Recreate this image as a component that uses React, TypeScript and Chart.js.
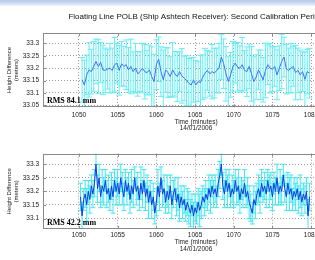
import React, { useEffect, useRef } from 'react';
import { Chart, registerables } from 'chart.js';

Chart.register(...registerables);

const TITLE = 'Floating Line POLB (Ship Ashtech Receiver): Second Calibration Period';
const X_TITLE = ['Time (minutes)', '14/01/2006'];
const Y_TITLE = ['Height Difference', '(meters)'];
const X_TICKS = [1050, 1055, 1060, 1065, 1070, 1075, 1080];
const TOP_Y_TICKS = [33.05, 33.1, 33.15, 33.2, 33.25, 33.3];
const BOTTOM_Y_TICKS = [33.1, 33.15, 33.2, 33.25, 33.3];
const TOP_RMS = 'RMS 84.1 mm';
const BOTTOM_RMS = 'RMS 42.2 mm';

const topTimes = [
  1050.4, 1050.7, 1051.0, 1051.3, 1051.6, 1051.9, 1052.2, 1052.5, 1052.8, 1053.1,
  1053.4, 1053.7, 1054.0, 1054.3, 1054.6, 1054.9, 1055.2, 1055.5, 1055.8, 1056.1,
  1056.4, 1056.7, 1057.0, 1057.3, 1057.6, 1057.9, 1058.2, 1058.5, 1058.8, 1059.1,
  1059.4, 1059.7, 1060.0, 1060.3, 1060.6, 1060.9, 1061.2, 1061.5, 1061.8, 1062.1,
  1062.4, 1062.7, 1063.0, 1063.3, 1063.6, 1063.9, 1064.2, 1064.5, 1064.8, 1065.1,
  1065.4, 1065.7, 1066.0, 1066.3, 1066.6, 1066.9, 1067.2, 1067.5, 1067.8, 1068.1,
  1068.4, 1068.7, 1069.0, 1069.3, 1069.6, 1069.9, 1070.2, 1070.5, 1070.8, 1071.1,
  1071.4, 1071.7, 1072.0, 1072.3, 1072.6, 1072.9, 1073.2, 1073.5, 1073.8, 1074.1,
  1074.4, 1074.7, 1075.0, 1075.3, 1075.6, 1075.9, 1076.2, 1076.5, 1076.8, 1077.1,
  1077.4, 1077.7, 1078.0, 1078.3, 1078.6, 1078.9, 1079.2, 1079.5, 1079.8,
];

const topHeights = [
  33.153, 33.132, 33.173, 33.193, 33.186, 33.207, 33.227, 33.207, 33.223, 33.193,
  33.191, 33.196, 33.2, 33.191, 33.214, 33.22, 33.191, 33.218, 33.207, 33.214,
  33.193, 33.207, 33.186, 33.2, 33.177, 33.186, 33.2, 33.186, 33.182, 33.193,
  33.166, 33.146, 33.214, 33.236, 33.186, 33.153, 33.193, 33.182, 33.166, 33.193,
  33.177, 33.166, 33.186, 33.169, 33.159, 33.15, 33.139, 33.132, 33.153, 33.132,
  33.146, 33.142, 33.164, 33.18, 33.191, 33.177, 33.186, 33.18, 33.191, 33.2,
  33.245, 33.218, 33.177, 33.146, 33.173, 33.207, 33.22, 33.204, 33.2, 33.214,
  33.191, 33.186, 33.207, 33.177, 33.146, 33.164, 33.193, 33.173, 33.153, 33.191,
  33.214, 33.2, 33.196, 33.207, 33.173, 33.2, 33.227, 33.245, 33.196, 33.191,
  33.2, 33.207, 33.182, 33.191, 33.173, 33.186, 33.155, 33.186, 33.18,
];

const topErrors = [
  0.09, 0.10, 0.08, 0.11, 0.09, 0.10, 0.09, 0.11, 0.08, 0.10,
  0.09, 0.08, 0.10, 0.09, 0.11, 0.08, 0.10, 0.09, 0.08, 0.10,
  0.09, 0.11, 0.08, 0.10, 0.09, 0.08, 0.10, 0.11, 0.09, 0.10,
  0.12, 0.11, 0.10, 0.09, 0.10, 0.12, 0.09, 0.10, 0.08, 0.11,
  0.09, 0.10, 0.08, 0.11, 0.09, 0.10, 0.10, 0.11, 0.09, 0.10,
  0.08, 0.11, 0.09, 0.10, 0.08, 0.09, 0.11, 0.10, 0.09, 0.10,
  0.09, 0.10, 0.11, 0.10, 0.09, 0.10, 0.08, 0.10, 0.09, 0.11,
  0.08, 0.10, 0.09, 0.11, 0.10, 0.09, 0.08, 0.10, 0.09, 0.11,
  0.08, 0.10, 0.09, 0.08, 0.10, 0.09, 0.11, 0.08, 0.10, 0.09,
  0.10, 0.08, 0.11, 0.09, 0.10, 0.08, 0.11, 0.09, 0.10,
];

const bottomTimes = [
  1050.2, 1050.4, 1050.6, 1050.8, 1051.0, 1051.2, 1051.4, 1051.6, 1051.8, 1052.0,
  1052.2, 1052.4, 1052.6, 1052.8, 1053.0, 1053.2, 1053.4, 1053.6, 1053.8, 1054.0,
  1054.2, 1054.4, 1054.6, 1054.8, 1055.0, 1055.2, 1055.4, 1055.6, 1055.8, 1056.0,
  1056.2, 1056.4, 1056.6, 1056.8, 1057.0, 1057.2, 1057.4, 1057.6, 1057.8, 1058.0,
  1058.2, 1058.4, 1058.6, 1058.8, 1059.0, 1059.2, 1059.4, 1059.6, 1059.8, 1060.0,
  1060.2, 1060.4, 1060.6, 1060.8, 1061.0, 1061.2, 1061.4, 1061.6, 1061.8, 1062.0,
  1062.2, 1062.4, 1062.6, 1062.8, 1063.0, 1063.2, 1063.4, 1063.6, 1063.8, 1064.0,
  1064.2, 1064.4, 1064.6, 1064.8, 1065.0, 1065.2, 1065.4, 1065.6, 1065.8, 1066.0,
  1066.2, 1066.4, 1066.6, 1066.8, 1067.0, 1067.2, 1067.4, 1067.6, 1067.8, 1068.0,
  1068.2, 1068.4, 1068.6, 1068.8, 1069.0, 1069.2, 1069.4, 1069.6, 1069.8, 1070.0,
  1070.2, 1070.4, 1070.6, 1070.8, 1071.0, 1071.2, 1071.4, 1071.6, 1071.8, 1072.0,
  1072.2, 1072.4, 1072.6, 1072.8, 1073.0, 1073.2, 1073.4, 1073.6, 1073.8, 1074.0,
  1074.2, 1074.4, 1074.6, 1074.8, 1075.0, 1075.2, 1075.4, 1075.6, 1075.8, 1076.0,
  1076.2, 1076.4, 1076.6, 1076.8, 1077.0, 1077.2, 1077.4, 1077.6, 1077.8, 1078.0,
  1078.2, 1078.4, 1078.6, 1078.8, 1079.0, 1079.2, 1079.4, 1079.6, 1079.8,
];

const bottomHeights = [
  33.18, 33.11, 33.17, 33.19, 33.15, 33.20, 33.17, 33.22, 33.19, 33.23,
  33.30, 33.21, 33.25, 33.18, 33.22, 33.20, 33.24, 33.19, 33.21, 33.17,
  33.22, 33.18, 33.24, 33.20, 33.23, 33.19, 33.25, 33.21, 33.18, 33.24,
  33.20, 33.23, 33.17, 33.22, 33.19, 33.25, 33.20, 33.22, 33.17, 33.23,
  33.19, 33.24, 33.18, 33.21, 33.16, 33.20, 33.15, 33.18, 33.12, 33.16,
  33.22, 33.18, 33.25, 33.19, 33.21, 33.16, 33.20, 33.17, 33.22, 33.15,
  33.19, 33.21, 33.16, 33.19, 33.14, 33.18, 33.15, 33.17, 33.13, 33.16,
  33.14, 33.12, 33.15, 33.11, 33.14, 33.12, 33.16, 33.13, 33.15, 33.18,
  33.16, 33.19, 33.17, 33.21, 33.18, 33.22, 33.19, 33.21, 33.18, 33.23,
  33.26, 33.30, 33.22, 33.19, 33.24, 33.20, 33.23, 33.18, 33.21, 33.19,
  33.24, 33.20, 33.22, 33.17, 33.21, 33.19, 33.23, 33.18, 33.20, 33.16,
  33.14, 33.12, 33.17, 33.15, 33.19, 33.21, 33.18, 33.23, 33.20, 33.22,
  33.19, 33.24, 33.20, 33.22, 33.18, 33.23, 33.20, 33.25, 33.19, 33.22,
  33.20, 33.26, 33.21, 33.18, 33.23, 33.19, 33.21, 33.17, 33.20, 33.18,
  33.21, 33.17, 33.20, 33.16, 33.19, 33.17, 33.20, 33.11, 33.18,
];

const bottomErrors = [
  0.05, 0.05, 0.04, 0.05, 0.06, 0.04, 0.05, 0.04, 0.05, 0.05,
  0.04, 0.05, 0.05, 0.04, 0.06, 0.05, 0.04, 0.05, 0.05, 0.04,
  0.05, 0.06, 0.04, 0.05, 0.05, 0.04, 0.05, 0.06, 0.05, 0.04,
  0.05, 0.04, 0.05, 0.06, 0.05, 0.04, 0.05, 0.05, 0.04, 0.06,
  0.05, 0.04, 0.05, 0.05, 0.06, 0.04, 0.05, 0.05, 0.04, 0.05,
  0.06, 0.05, 0.04, 0.05, 0.05, 0.04, 0.06, 0.05, 0.04, 0.05,
  0.05, 0.04, 0.05, 0.06, 0.05, 0.04, 0.05, 0.05, 0.04, 0.05,
  0.06, 0.05, 0.04, 0.05, 0.05, 0.04, 0.05, 0.06, 0.05, 0.04,
  0.05, 0.05, 0.04, 0.05, 0.06, 0.04, 0.05, 0.05, 0.04, 0.05,
  0.05, 0.04, 0.05, 0.05, 0.04, 0.06, 0.05, 0.04, 0.05, 0.05,
  0.04, 0.05, 0.06, 0.05, 0.04, 0.05, 0.05, 0.04, 0.05, 0.06,
  0.05, 0.04, 0.05, 0.05, 0.04, 0.05, 0.06, 0.05, 0.04, 0.05,
  0.05, 0.04, 0.06, 0.05, 0.05, 0.04, 0.05, 0.05, 0.04, 0.06,
  0.05, 0.04, 0.05, 0.05, 0.04, 0.06, 0.05, 0.04, 0.05, 0.05,
  0.04, 0.05, 0.06, 0.05, 0.04, 0.05, 0.05, 0.06, 0.05,
];

const SANS = '"Liberation Sans", Arial, Helvetica, sans-serif';

function makeErrorBarPlugin(times: number[], values: number[], errors: number[], color: string, cap: number) {
  return {
    id: 'errorBars',
    beforeDatasetsDraw(chart: any) {
      const { ctx, chartArea: a, scales } = chart;
      const xs = scales.x;
      const ys = scales.y;
      ctx.save();
      ctx.beginPath();
      ctx.rect(a.left, a.top, a.right - a.left, a.bottom - a.top);
      ctx.clip();
      ctx.strokeStyle = color;
      ctx.lineWidth = 1;
      ctx.beginPath();
      for (let i = 0; i < times.length; i++) {
        const px = xs.getPixelForValue(times[i]);
        const hi = ys.getPixelForValue(values[i] + errors[i]);
        const lo = ys.getPixelForValue(values[i] - errors[i]);
        ctx.moveTo(px, hi);
        ctx.lineTo(px, lo);
        ctx.moveTo(px - cap / 2, hi);
        ctx.lineTo(px + cap / 2, hi);
        ctx.moveTo(px - cap / 2, lo);
        ctx.lineTo(px + cap / 2, lo);
      }
      ctx.stroke();
      ctx.restore();
    },
  };
}

// Centre the title over the plot area (as in the original figure).
const centerTitlePlugin = {
  id: 'centerTitle',
  afterLayout(chart: any) {
    const tb = chart.titleBlock;
    if (tb) {
      tb.left = chart.chartArea.left;
      tb.right = chart.chartArea.right;
      tb.width = chart.chartArea.right - chart.chartArea.left;
    }
  },
};

function makeFramePlugin(rms: string, yTicks: number[]) {
  return {
    id: 'frame',
    afterDatasetsDraw(chart: any) {
      const { ctx, chartArea: a, scales } = chart;
      ctx.save();
      ctx.strokeStyle = '#8a8a8a';
      ctx.lineWidth = 1;
      ctx.strokeRect(Math.round(a.left) + 0.5, Math.round(a.top) + 0.5, Math.round(a.right - a.left) - 1, Math.round(a.bottom - a.top) - 1);
      ctx.beginPath();
      for (const t of X_TICKS) {
        const px = Math.round(scales.x.getPixelForValue(t)) + 0.5;
        ctx.moveTo(px, a.bottom);
        ctx.lineTo(px, a.bottom - 3);
        ctx.moveTo(px, a.top);
        ctx.lineTo(px, a.top + 3);
      }
      for (const v of yTicks) {
        const py = Math.round(scales.y.getPixelForValue(v)) + 0.5;
        ctx.moveTo(a.left, py);
        ctx.lineTo(a.left + 3, py);
        ctx.moveTo(a.right, py);
        ctx.lineTo(a.right - 3, py);
      }
      ctx.stroke();
      ctx.font = 'bold 8px "Liberation Serif", "Times New Roman", serif';
      ctx.fillStyle = '#000';
      ctx.textAlign = 'left';
      ctx.textBaseline = 'alphabetic';
      ctx.fillText(rms, a.left + 4, a.bottom - 4);
      ctx.restore();
    },
  };
}

interface PanelSpec {
  times: number[];
  values: number[];
  errors: number[];
  yTicks: number[];
  yMin: number;
  yMax: number;
  rms: string;
  lineColor: string;
  barColor: string;
  cap: number;
  title: boolean;
  padTop: number;
  xHeight: number;
  tickPad: number;
  xTitleBottom: number;
}

function makeConfig(p: PanelSpec): any {
  const tickFont = { family: SANS, size: 6.5, lineHeight: 1 };
  return {
    type: 'line',
    data: {
      datasets: [
        {
          data: p.times.map((t, i) => ({ x: t, y: p.values[i] })),
          borderColor: p.lineColor,
          borderWidth: 1,
          pointRadius: 0,
          tension: 0,
          fill: false,
        },
      ],
    },
    options: {
      responsive: false,
      maintainAspectRatio: false,
      animation: false,
      events: [],
      layout: { padding: { top: p.padTop, right: 43, bottom: 0, left: 0 } },
      plugins: {
        legend: { display: false },
        tooltip: { enabled: false },
        title: {
          display: p.title,
          text: TITLE,
          color: '#111',
          font: { family: SANS, size: 8, weight: 'normal', lineHeight: 1.2 },
          padding: { top: 0, bottom: 11.2 },
        },
      },
      scales: {
        x: {
          type: 'linear',
          min: 1045.35,
          max: 1084.9,
          afterBuildTicks: (s: any) => {
            s.ticks = X_TICKS.map((v) => ({ value: v }));
          },
          afterFit: (s: any) => {
            s.height = p.xHeight;
          },
          grid: { color: '#9a9a9a', lineWidth: 1, drawTicks: false },
          border: { display: false, dash: [1, 2] },
          ticks: {
            padding: p.tickPad,
            color: '#222',
            font: tickFont,
            maxRotation: 0,
            autoSkip: false,
            callback: (v: any) => String(v),
          },
          title: {
            display: true,
            text: X_TITLE,
            color: '#222',
            font: { family: SANS, size: 6.5, lineHeight: 1 },
            padding: { top: 0, bottom: p.xTitleBottom },
          },
        },
        y: {
          type: 'linear',
          min: p.yMin,
          max: p.yMax,
          afterBuildTicks: (s: any) => {
            s.ticks = p.yTicks.map((v) => ({ value: v }));
          },
          afterFit: (s: any) => {
            s.width = 43;
          },
          grid: { color: '#9a9a9a', lineWidth: 1, drawTicks: false },
          border: { display: false, dash: [1, 2] },
          ticks: {
            padding: 4,
            color: '#222',
            font: tickFont,
            callback: (v: any) => String(parseFloat(Number(v).toFixed(2))),
          },
          title: {
            display: true,
            text: Y_TITLE,
            color: '#222',
            font: { family: SANS, size: 6, lineHeight: 1.1 },
            padding: { top: 6.2, bottom: 0 },
          },
        },
      },
    },
    plugins: [
      centerTitlePlugin,
      makeErrorBarPlugin(p.times, p.values, p.errors, p.barColor, p.cap),
      makeFramePlugin(p.rms, p.yTicks),
    ],
  };
}

function Panel({ spec, top, height }: { spec: PanelSpec; top: number; height: number }) {
  const ref = useRef<HTMLCanvasElement>(null);
  useEffect(() => {
    const chart = new Chart(ref.current as HTMLCanvasElement, makeConfig(spec));
    return () => chart.destroy();
  }, []);
  return (
    <canvas
      ref={ref}
      width={392}
      height={height}
      style={{ position: 'absolute', left: 0, top, width: 392, height }}
    />
  );
}

const topSpec: PanelSpec = {
  times: topTimes,
  values: topHeights,
  errors: topErrors,
  yTicks: TOP_Y_TICKS,
  yMin: 33.042,
  yMax: 33.342,
  rms: TOP_RMS,
  lineColor: '#3f6ff0',
  barColor: '#5ff0f6',
  cap: 6,
  title: true,
  padTop: 12.2,
  xHeight: 32.7,
  tickPad: 4.4,
  xTitleBottom: 8.4,
};

const bottomSpec: PanelSpec = {
  times: bottomTimes,
  values: bottomHeights,
  errors: bottomErrors,
  yTicks: BOTTOM_Y_TICKS,
  yMin: 33.0615,
  yMax: 33.3385,
  rms: BOTTOM_RMS,
  lineColor: '#0c3ce4',
  barColor: '#3fe8f2',
  cap: 5,
  title: false,
  padTop: 23.7,
  xHeight: 31,
  tickPad: 2.7,
  xTitleBottom: 7.75,
};

export default function App() {
  return (
    <div
      style={{
        position: 'fixed',
        left: 0,
        top: 0,
        width: 315,
        height: 260,
        overflow: 'hidden',
        background: '#ffffff',
      }}
    >
      <div
        style={{
          position: 'absolute',
          left: 0,
          top: 0,
          width: 315,
          height: 6,
          background: 'linear-gradient(180deg, #b3c8e8 0%, #d6e2f4 70%, #f2f6fc 100%)',
        }}
      />
      <Panel spec={topSpec} top={0} height={140} />
      <Panel spec={bottomSpec} top={130} height={130} />
    </div>
  );
}
